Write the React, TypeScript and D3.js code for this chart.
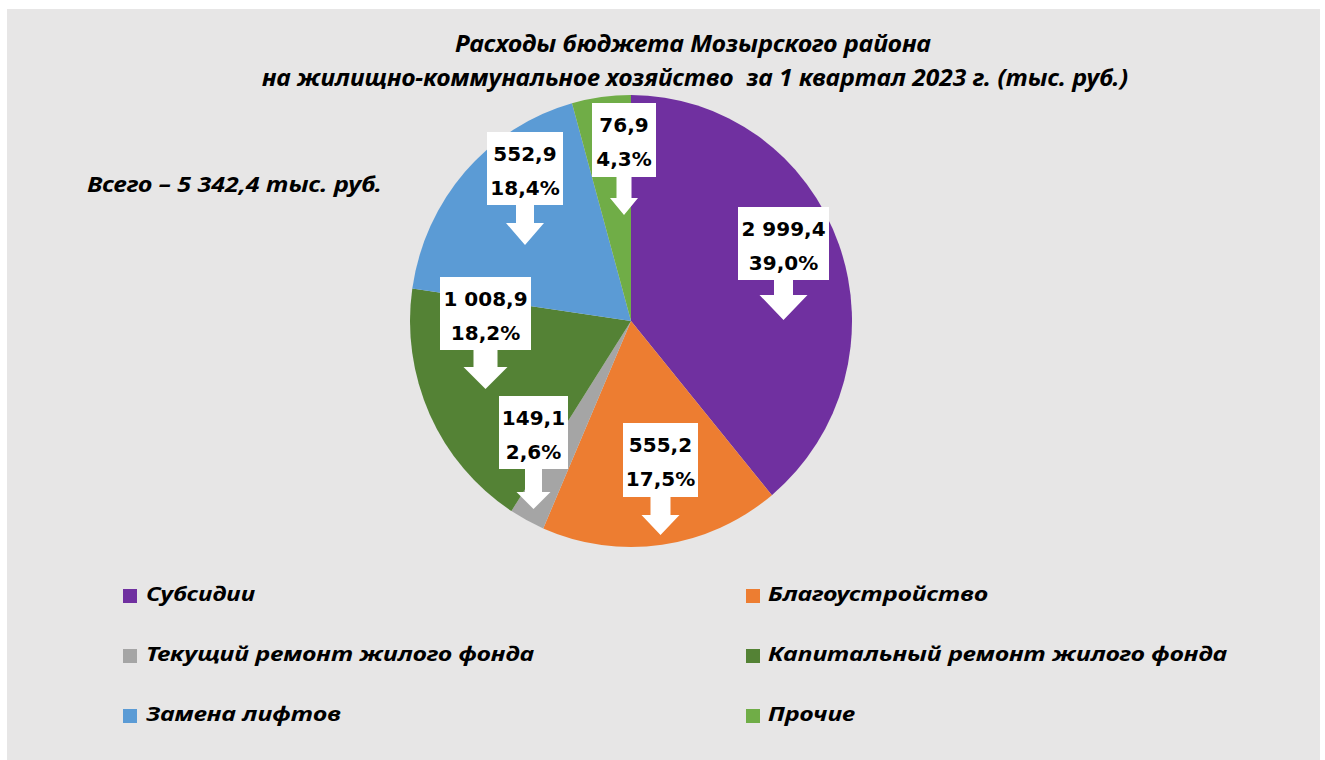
import React from 'react';
import * as d3 from 'd3';

// ---------- data ----------
const categories = [
  'Субсидии',
  'Благоустройство',
  'Текущий ремонт жилого фонда',
  'Капитальный ремонт жилого фонда',
  'Замена лифтов',
  'Прочие',
];
const amounts = [2999.4, 555.2, 149.1, 1008.9, 552.9, 76.9];
const shares = [39.0, 17.5, 2.6, 18.2, 18.4, 4.3];
const colors = ['#7030a0', '#ed7d31', '#a5a5a5', '#548235', '#5b9bd5', '#70ad47'];
const totalAmount = 5342.4;
const titleLines = [
  'Расходы бюджета Мозырского района',
  'на жилищно-коммунальное хозяйство  за 1 квартал 2023 г. (тыс. руб.)',
];

// ---------- layout (positions / sizes only) ----------
const W = 1325;
const H = 760;
const CX = 631;
const CY = 321;
const R = 221;
const RY_SCALE = 226 / 221;

// callout boxes per slice: box centre x, box top, box width, arrow head top, tip, shaft width, head width
const callouts = [
  { cx: 783.5, top: 207, w: 91, h: 73, headTop: 295, tip: 320, shaft: 19, head: 48 },
  { cx: 660.5, top: 423, w: 75, h: 74, headTop: 515, tip: 535, shaft: 20, head: 38 },
  { cx: 533.5, top: 396, w: 69, h: 73, headTop: 492, tip: 509, shaft: 17, head: 34 },
  { cx: 485.5, top: 277, w: 91, h: 73, headTop: 367, tip: 389, shaft: 24, head: 44 },
  { cx: 525, top: 132, w: 76, h: 73, headTop: 223, tip: 245, shaft: 18, head: 38 },
  { cx: 624, top: 103, w: 64, h: 74, headTop: 198, tip: 215, shaft: 15, head: 28 },
];

const legendCols = [123, 746];
const legendTextCols = [146, 768];
const legendRows = [601, 661, 721];
const legendTextLen = [109, 220, 388, 459, 195, 87];

const ruLocale = d3.formatLocale({
  decimal: ',',
  thousands: ' ',
  grouping: [3],
  currency: ['', ''],
});
const fmtAmount = ruLocale.format(',.1f');
const fmtShare = ruLocale.format('.1f');

const italicFont = "'Noto Sans', 'Open Sans', 'DejaVu Sans', sans-serif";
const labelFont = "'DejaVu Sans', 'Noto Sans', sans-serif";

function calloutPath(c: typeof callouts[number]) {
  const L = c.cx - c.w / 2;
  const Rr = c.cx + c.w / 2;
  const T = c.top;
  const B = c.top + c.h;
  const s = c.shaft / 2;
  const hw = c.head / 2;
  return [
    `M${L},${T}`,
    `H${Rr}`,
    `V${B}`,
    `H${c.cx + s}`,
    `V${c.headTop}`,
    `H${c.cx + hw}`,
    `L${c.cx},${c.tip}`,
    `L${c.cx - hw},${c.headTop}`,
    `H${c.cx - s}`,
    `V${B}`,
    `H${L}`,
    'Z',
  ].join(' ');
}

export default function App() {
  const pie = d3
    .pie<number>()
    .sort(null)
    .value((d) => d)
    .startAngle(0)
    .endAngle(2 * Math.PI);
  const arcs = pie(shares);
  const arc = d3.arc<d3.PieArcDatum<number>>().innerRadius(0).outerRadius(R);

  return (
    <svg
      width={W}
      height={H}
      viewBox={`0 0 ${W} ${H}`}
      style={{ position: 'fixed', left: 0, top: 0, display: 'block' }}
    >
      <rect x={0} y={0} width={W} height={H} fill="#ffffff" />
      <rect x={7} y={9} width={1313} height={H - 9} fill="#e7e6e6" />

      {/* title */}
      <g fontFamily={italicFont} fontWeight="bold" fontStyle="italic" fill="#000">
        <text
          x={693}
          y={52}
          fontSize={24}
          textAnchor="middle"
          textLength={476}
          lengthAdjust="spacingAndGlyphs"
        >
          {titleLines[0]}
        </text>
        <text
          x={695}
          y={86}
          fontSize={24}
          textAnchor="middle"
          textLength={866}
          lengthAdjust="spacingAndGlyphs"
          style={{ whiteSpace: 'pre' }}
        >
          {titleLines[1]}
        </text>
        <text x={87} y={192} fontSize={22} textLength={295} lengthAdjust="spacingAndGlyphs">
          {`Всего – ${fmtAmount(totalAmount)} тыс. руб.`}
        </text>
      </g>

      {/* pie */}
      <g transform={`translate(${CX},${CY}) scale(1,${RY_SCALE})`}>
        {arcs.map((a, i) => (
          <path key={categories[i]} d={arc(a) as string} fill={colors[i]} />
        ))}
      </g>

      {/* callouts */}
      <g>
        {callouts.map((c, i) => (
          <g key={`c-${i}`}>
            <path d={calloutPath(c)} fill="#ffffff" />
            <text
              x={c.cx}
              y={c.top + 29}
              textAnchor="middle"
              fontFamily={labelFont}
              fontWeight="bold"
              fontSize={20}
              fill="#000"
            >
              {fmtAmount(amounts[i])}
            </text>
            <text
              x={c.cx}
              y={c.top + 63}
              textAnchor="middle"
              fontFamily={labelFont}
              fontWeight="bold"
              fontSize={20}
              fill="#000"
            >
              {`${fmtShare(shares[i])}%`}
            </text>
          </g>
        ))}
      </g>

      {/* legend */}
      <g fontFamily={italicFont} fontWeight="bold" fontStyle="italic" fill="#000">
        {categories.map((cat, i) => {
          const col = i % 2;
          const row = Math.floor(i / 2);
          const by = legendRows[row];
          return (
            <g key={`lg-${cat}`}>
              <rect x={legendCols[col]} y={by - 12} width={14} height={14} fill={colors[i]} />
              <text
                x={legendTextCols[col]}
                y={by}
                fontSize={20}
                textLength={legendTextLen[i]}
                lengthAdjust="spacingAndGlyphs"
              >
                {cat}
              </text>
            </g>
          );
        })}
      </g>
    </svg>
  );
}
